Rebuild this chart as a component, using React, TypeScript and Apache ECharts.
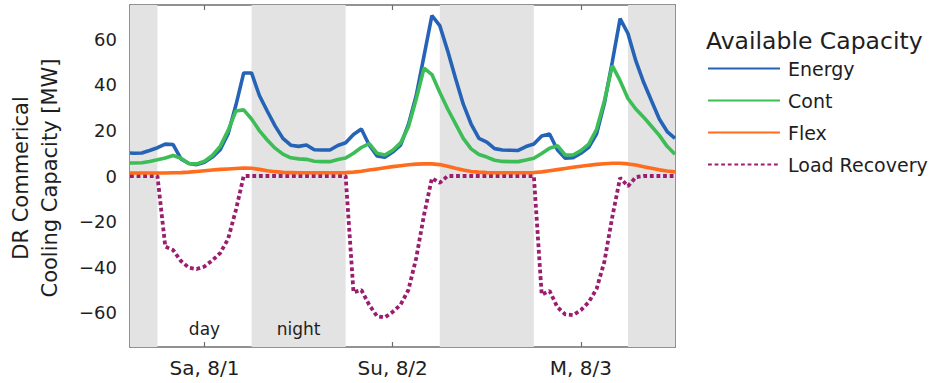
import React, { useEffect, useRef } from "react";
import * as echarts from "echarts";

// Hours since Saturday 00:00
const HOURS = [2.5, ...Array.from({ length: 70 }, (_, i) => i + 3)];

const ENERGY = [
  10.1, 10.0, 10.1, 11.2, 12.4, 14.0, 13.8, 7.5, 5.5, 5.0, 6.0, 8.3, 11.5, 18.4, 31.0, 45.2, 45.2,
  35.3, 28.5, 22.0, 16.5, 13.5, 13.0, 13.6, 11.5, 11.4, 11.4, 13.4, 14.6, 18.2, 20.6, 13.6, 8.8,
  8.2, 10.5, 13.5, 22.5, 35.3, 52.8, 70.4, 66.0, 55.0, 43.0, 31.5, 22.8, 16.5, 14.9, 12.0, 11.4,
  11.3, 11.2, 12.9, 14.0, 17.5, 18.4, 11.5, 7.8, 8.0, 10.0, 12.6, 18.5, 32.0, 50.0, 69.0, 62.5,
  50.6, 41.1, 33.0, 25.0, 19.5, 16.5,
];
const CONT = [
  5.7, 5.7, 5.8, 6.4, 7.1, 7.9, 9.0, 7.8, 5.5, 5.3, 6.5, 9.0, 13.0, 19.9, 28.5, 29.0, 25.0, 19.9,
  15.8, 12.2, 9.6, 8.0, 7.5, 7.3, 6.5, 6.3, 6.3, 7.2, 7.9, 10.0, 12.5, 14.2, 10.0, 9.2, 11.3, 14.5,
  21.5, 33.8, 47.3, 44.5, 36.7, 29.5, 23.0, 16.5, 11.9, 9.4, 8.3, 6.9, 6.4, 6.3, 6.3, 7.0, 7.8, 9.9,
  12.2, 13.3, 9.2, 9.2, 11.1, 14.0, 20.5, 33.0, 48.4, 41.8, 34.0, 29.4, 25.8, 21.8, 17.8, 13.0, 9.5,
];
const FLEX = [
  1.3, 1.3, 1.3, 1.3, 1.3, 1.3, 1.4, 1.5, 1.7, 2.0, 2.3, 2.6, 2.9, 3.1, 3.3, 3.5, 3.4, 2.9, 2.3, 1.9,
  1.6, 1.5, 1.4, 1.4, 1.4, 1.4, 1.4, 1.4, 1.5, 1.7, 2.1, 2.6, 3.1, 3.6, 4.1, 4.5, 4.9, 5.2, 5.3, 5.3,
  5.0, 4.3, 3.4, 2.6, 2.0, 1.7, 1.5, 1.4, 1.4, 1.4, 1.4, 1.4, 1.5, 1.8, 2.3, 2.8, 3.3, 3.8, 4.3, 4.7,
  5.1, 5.4, 5.6, 5.6, 5.3, 4.8, 4.1, 3.4, 2.7, 2.2, 1.8,
];
const LOAD_RECOVERY = [
  0, 0, 0, 0, 0, -31, -32.5, -37.3, -40.2, -40.8, -39.7, -37, -33.8, -27.7, -15, 0, 0, 0, 0, 0, 0, 0,
  0, 0, 0, 0, 0, 0, 0, -51, -50, -56.5, -61.5, -62, -59.6, -56.5, -50, -36, -17, -1, -3, 0, 0, 0, 0,
  0, 0, 0, 0, 0, 0, 0, 0, -52, -50.4, -57.5, -60.7, -61, -58.8, -55.3, -49.5, -37.5, -18, -0.8, -4.5,
  -0.5, 0, 0, 0, 0, 0,
];

const SERIES_NAMES = ["Energy", "Cont", "Flex", "Load Recovery"];
const SERIES_COLORS = ["#2563b6", "#3dbd56", "#ff6c1c", "#9a1d6e"];
const DAY_TICKS = [12, 36, 60];
const DAY_LABELS = ["Sa, 8/1", "Su, 8/2", "M, 8/3"];
const Y_TICKS = [-60, -40, -20, 0, 20, 40, 60];
const X_MIN = 2.5;
const X_MAX = 72;
const Y_MIN = -75;
const Y_MAX = 75;
const NIGHT_BANDS = [
  [2.5, 6],
  [18, 30],
  [42, 54],
  [66, 72],
];
const DAY_BAND = [6, 18];
const LEGEND_TITLE = "Available Capacity";
const Y_TITLE = "DR Commerical\nCooling Capacity [MW]";

const FONT = "DejaVu Sans";
const TEXT = "#1e1e1e";
const AXIS = "#6e6e6e";

export default function App() {
  const ref = useRef<HTMLDivElement>(null);

  useEffect(() => {
    if (!ref.current) return;
    const chart = echarts.init(ref.current, undefined, { renderer: "svg" });

    const toPairs = (vals: number[]) => HOURS.map((h, i) => [h, vals[i]]);
    const allValues = [ENERGY, CONT, FLEX, LOAD_RECOVERY];

    const bandLabel = {
      show: true,
      position: "insideBottom",
      distance: 10,
      color: TEXT,
      fontFamily: FONT,
      fontSize: 17,
    };

    const markAreaData: any[] = NIGHT_BANDS.map((b, i) => [
      i === 1
        ? { xAxis: b[0], name: "night", label: bandLabel }
        : { xAxis: b[0] },
      { xAxis: b[1] },
    ]);
    markAreaData.push([
      {
        xAxis: DAY_BAND[0],
        name: "day",
        label: bandLabel,
        itemStyle: { color: "rgba(0,0,0,0)" },
      },
      { xAxis: DAY_BAND[1] },
    ]);

    const series: any[] = SERIES_NAMES.map((name, k) => ({
      name,
      type: "line",
      data: toPairs(allValues[k]),
      symbol: "none",
      showSymbol: false,
      z: 3 + (k === 3 ? 0 : 1),
      lineStyle:
        k === 3
          ? { color: SERIES_COLORS[k], width: 3.8, type: [3.8, 2.8], cap: "butt" }
          : { color: SERIES_COLORS[k], width: 3.6 },
      itemStyle: { color: SERIES_COLORS[k] },
      emphasis: { disabled: true },
    }));

    series.push({
      name: "bands",
      type: "line",
      data: [],
      silent: true,
      markArea: {
        silent: true,
        itemStyle: { color: "#e3e3e3" },
        label: { show: false },
        data: markAreaData,
      },
    });

    const axisLineStyle = { lineStyle: { color: AXIS, width: 1.5 } };
    const tickStyle = { lineStyle: { color: AXIS, width: 1.2 } };

    chart.setOption({
      animation: false,
      backgroundColor: "#ffffff",
      textStyle: { fontFamily: FONT },
      grid: {
        left: 130,
        right: 260,
        top: 5,
        bottom: 36,
        containLabel: false,
        outerBoundsMode: "none",
      },
      title: {
        text: LEGEND_TITLE,
        left: 706,
        top: 29,
        padding: 0,
        textStyle: { fontFamily: FONT, fontSize: 23.5, fontWeight: "normal", color: TEXT },
      },
      legend: {
        orient: "vertical",
        left: 707,
        top: 59,
        padding: 0,
        itemWidth: 72,
        itemHeight: 14,
        itemGap: 13,
        selectedMode: false,
        data: SERIES_NAMES,
        itemStyle: { opacity: 0, borderWidth: 0 },
        textStyle: { fontFamily: FONT, fontSize: 19, color: TEXT, padding: [0, 0, 0, 3] },
      },
      xAxis: [
        {
          type: "value",
          min: X_MIN,
          max: X_MAX,
          position: "bottom",
          axisLine: { show: true, onZero: false, ...axisLineStyle },
          axisTick: { show: true, inside: true, length: 5, customValues: DAY_TICKS, ...tickStyle },
          axisLabel: {
            show: true,
            customValues: DAY_TICKS,
            margin: 11,
            fontFamily: FONT,
            fontSize: 20,
            color: TEXT,
            formatter: (v: number) => DAY_LABELS[DAY_TICKS.indexOf(v)] ?? "",
          },
          splitLine: { show: false },
        },
        {
          type: "value",
          min: X_MIN,
          max: X_MAX,
          position: "top",
          axisLine: { show: true, onZero: false, ...axisLineStyle },
          axisTick: { show: true, inside: true, length: 5, customValues: DAY_TICKS, ...tickStyle },
          axisLabel: { show: false },
          splitLine: { show: false },
        },
      ],
      yAxis: [
        {
          type: "value",
          min: Y_MIN,
          max: Y_MAX,
          position: "left",
          axisLine: { show: true, onZero: false, ...axisLineStyle },
          axisTick: { show: true, inside: true, length: 5, customValues: Y_TICKS, ...tickStyle },
          axisLabel: {
            show: true,
            customValues: Y_TICKS,
            margin: 13,
            fontFamily: FONT,
            fontSize: 18,
            color: TEXT,
            formatter: (v: number) => (v < 0 ? "\u2212" + Math.abs(v) : String(v)),
          },
          splitLine: { show: false },
        },
        {
          type: "value",
          min: Y_MIN,
          max: Y_MAX,
          position: "right",
          axisLine: { show: true, onZero: false, ...axisLineStyle },
          axisTick: { show: true, inside: true, length: 5, customValues: Y_TICKS, ...tickStyle },
          axisLabel: { show: false },
          splitLine: { show: false },
        },
      ],
      graphic: [
        {
          type: "text",
          x: 35,
          y: 178,
          rotation: Math.PI / 2,
          silent: true,
          style: {
            text: Y_TITLE,
            fontFamily: FONT,
            fontSize: 21,
            fill: TEXT,
            align: "center",
            verticalAlign: "middle",
            textAlign: "center",
            textVerticalAlign: "middle",
            lineHeight: 29,
          },
        },
      ],
      series,
    });

    return () => chart.dispose();
  }, []);

  return (
    <div
      ref={ref}
      style={{ position: "fixed", left: 0, top: 0, width: 935, height: 383, background: "#fff" }}
    />
  );
}
